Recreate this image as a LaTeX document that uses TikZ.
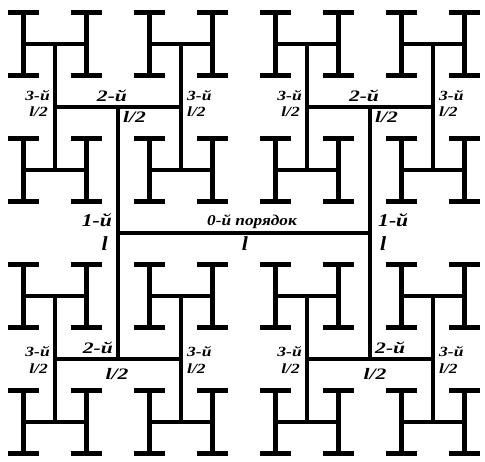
\documentclass[tikz,border=0pt]{standalone}
\usepackage{fontspec}
\usepackage{graphicx}
\setmainfont{Liberation Serif}
\newcommand\hstr[2]{\scalebox{#1}[1]{#2}}
\tikzset{
  hline/.style={line width=4.8pt, line cap=butt},
  lbl/.style={inner sep=0pt},
  big/.style={lbl, font=\fontsize{18}{18}\selectfont\bfseries\itshape},
  ell/.style={lbl, font=\fontsize{20}{20}\selectfont\bfseries\itshape},
  mid/.style={lbl, font=\fontsize{16}{16}\selectfont\bfseries\itshape},
  small/.style={lbl, font=\fontsize{14}{14}\selectfont\bfseries\itshape},
  ord/.style={lbl, font=\fontsize{15}{15}\selectfont\bfseries\itshape}
}
\begin{document}
\begin{tikzpicture}[x=1pt,y=-1pt]
\useasboundingbox (0,0) rectangle (485,462);
\fill[white] (0,0) rectangle (485,462);
% H-tree
\coordinate (c0l) at (118,233);
\coordinate (c0r) at (370,233);
\draw[hline] (c0l) -- (c0r);
\foreach \sa in {-1,1}{
  \pgfmathsetmacro\xa{244+126*\sa}
  \draw[hline] (\xa,107) -- (\xa,359);
  \foreach \sb in {-1,1}{
    \pgfmathsetmacro\yb{233+126*\sb}
    \draw[hline] ({\xa-63},\yb) -- ({\xa+63},\yb);
    \foreach \sc in {-1,1}{
      \pgfmathsetmacro\xc{\xa+63*\sc}
      \draw[hline] (\xc,{\yb-63}) -- (\xc,{\yb+63});
      \foreach \sd in {-1,1}{
        \pgfmathsetmacro\yd{\yb+63*\sd}
        \draw[hline] ({\xc-31.5},\yd) -- ({\xc+31.5},\yd);
        \foreach \se in {-1,1}{
          \pgfmathsetmacro\xe{\xc+31.5*\se}
          \draw[hline] (\xe,{\yd-31.5}) -- (\xe,{\yd+31.5});
          \foreach \sf in {-1,1}{
            \pgfmathsetmacro\yf{\yd+31.5*\sf}
            \draw[hline] ({\xe-15.75},\yf) -- ({\xe+15.75},\yf);
          }
        }
      }
    }
  }
}
% central labels
\node[big, anchor=base east] (o1l) at (112,227) {\hstr{1.2}{1-й}};
\node[ell, anchor=base east] (l1l) at (108,251) {\hstr{1.1}{l}};
\node[ord, anchor=base] (o0) at (252,226) {\hstr{1.15}{0-й порядок}};
\node[ell, anchor=base] (l0) at (245,251) {\hstr{1.1}{l}};
\node[big, anchor=base west] (o1r) at (378,227) {\hstr{1.2}{1-й}};
\node[ell, anchor=base west] (l1r) at (380,251) {\hstr{1.1}{l}};
% quadrant labels
\foreach \dx/\q in {0/a,252/b}{
  % upper
  \node[small, anchor=base east] (u3l\q) at ({50+\dx},101) {\hstr{1.25}{3-й}};
  \node[small, anchor=base east] (u3ll\q) at ({48+\dx},117) {\hstr{1.25}{l/2}};
  \node[small, anchor=base west] (u3r\q) at ({187+\dx},101) {\hstr{1.25}{3-й}};
  \node[small, anchor=base west] (u3rl\q) at ({187+\dx},117) {\hstr{1.25}{l/2}};
  \node[mid, anchor=base] (u2\q) at ({112+\dx},102) {\hstr{1.35}{2-й}};
  \node[mid, anchor=base west] (u2l\q) at ({123+\dx},123) {\hstr{1.35}{l/2}};
  % lower
  \node[small, anchor=base east] (d3l\q) at ({50+\dx},357) {\hstr{1.25}{3-й}};
  \node[small, anchor=base east] (d3ll\q) at ({48+\dx},374) {\hstr{1.25}{l/2}};
  \node[small, anchor=base west] (d3r\q) at ({187+\dx},357) {\hstr{1.25}{3-й}};
  \node[small, anchor=base west] (d3rl\q) at ({187+\dx},374) {\hstr{1.25}{l/2}};
}
\node[mid, anchor=base east] (d2a) at (113,354) {\hstr{1.35}{2-й}};
\node[mid, anchor=base] (d2la) at (117,380) {\hstr{1.35}{l/2}};
\node[mid, anchor=base west] (d2b) at (375,354) {\hstr{1.35}{2-й}};
\node[mid, anchor=base] (d2lb) at (375,380) {\hstr{1.35}{l/2}};
\end{tikzpicture}
\end{document}
